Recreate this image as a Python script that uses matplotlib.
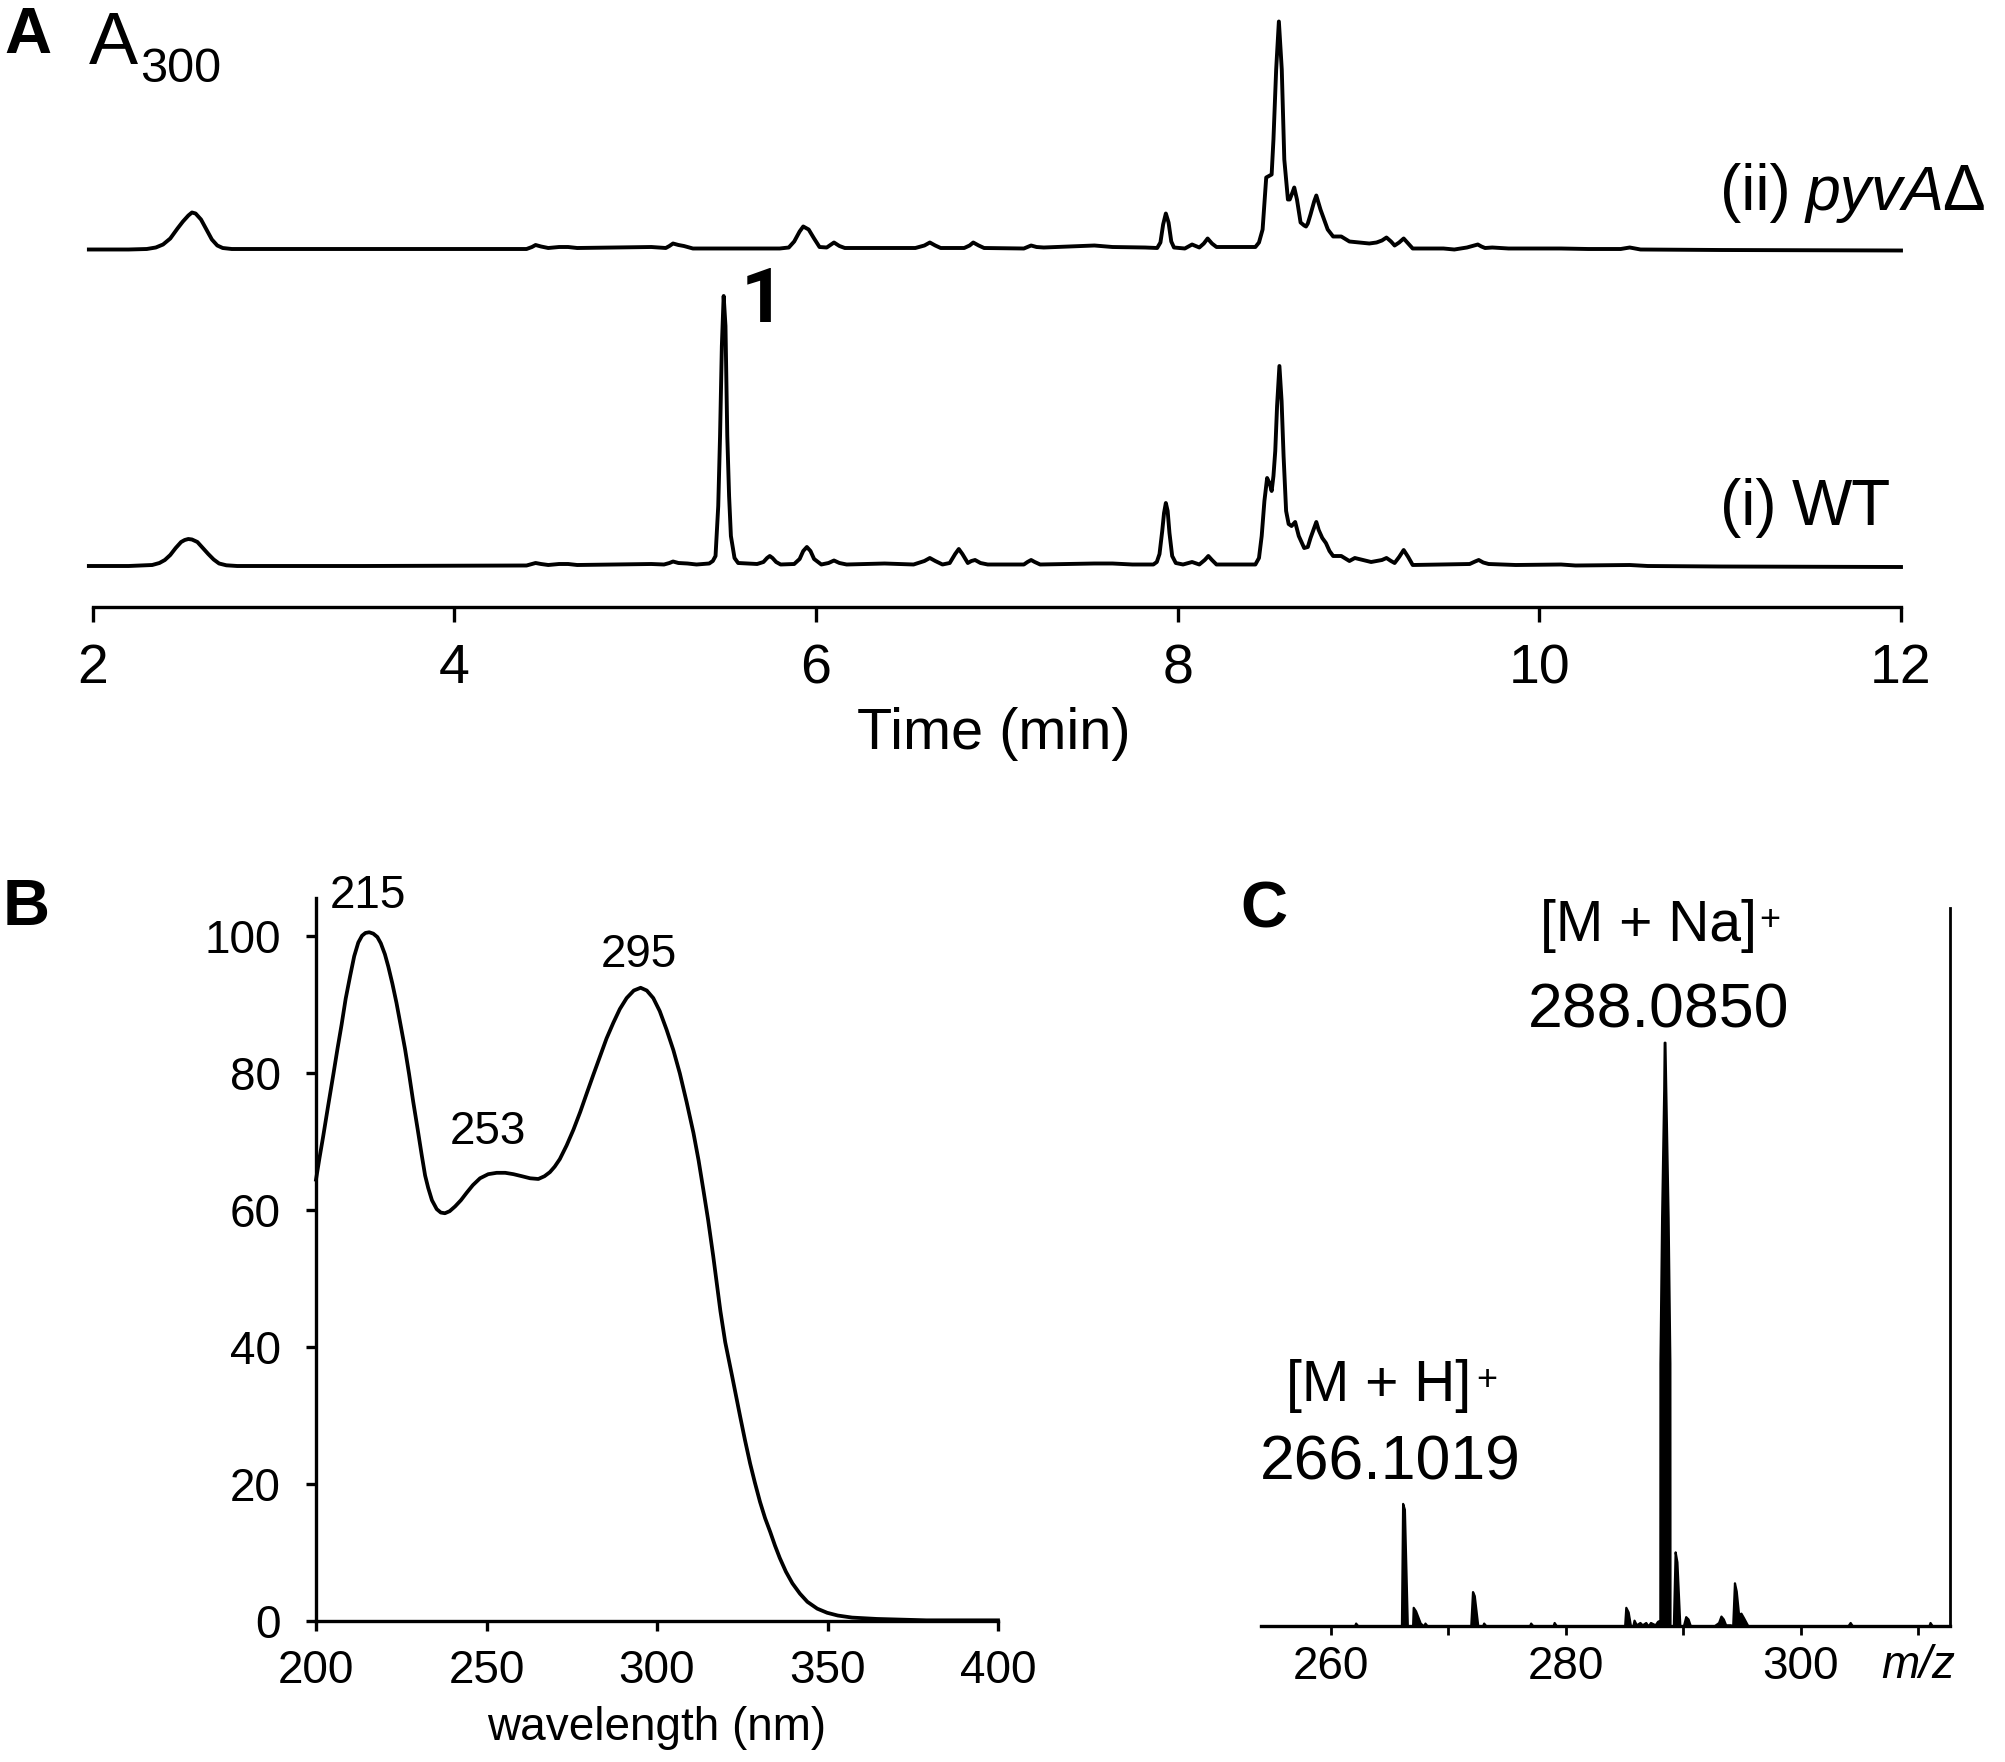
"""
plot.py
Three panel figure: HPLC traces (A), UV spectrum (B), mass spectrum (C).
"""
import matplotlib
matplotlib.use('Agg')
import matplotlib.pyplot as plt

# Panel A: time (min) and height of each trace
wt_time = [1.98, 2.2, 2.33, 2.37, 2.4, 2.43, 2.46, 2.49, 2.51, 2.53, 2.55, 2.58, 2.61, 2.64, 2.67, 2.7, 2.74, 2.8, 3.5, 4.4,
           4.43, 4.45, 4.48, 4.52, 4.58, 4.63, 4.68, 4.9, 5.09, 5.16, 5.19, 5.21, 5.24, 5.29, 5.34, 5.41, 5.43, 5.445, 5.46, 5.47,
           5.48, 5.49, 5.5, 5.51, 5.52, 5.53, 5.55, 5.57, 5.675, 5.71, 5.73, 5.745, 5.76, 5.78, 5.805, 5.88, 5.91, 5.93, 5.95,
           5.97, 5.99, 6.03, 6.07, 6.1, 6.13, 6.17, 6.38, 6.54, 6.6, 6.63, 6.66, 6.7, 6.74, 6.77, 6.79, 6.81, 6.84, 6.86, 6.88,
           6.91, 6.95, 7.15, 7.17, 7.19, 7.21, 7.24, 7.54, 7.64, 7.75, 7.866, 7.885, 7.9, 7.915, 7.925, 7.935, 7.945, 7.955, 7.97,
           7.99, 8.03, 8.08, 8.12, 8.15, 8.17, 8.19, 8.215, 8.43, 8.45, 8.465, 8.48, 8.495, 8.51, 8.52, 8.53, 8.54, 8.55, 8.563,
           8.575, 8.586, 8.6, 8.614, 8.63, 8.65, 8.67, 8.7, 8.72, 8.735, 8.755, 8.767, 8.78, 8.8, 8.82, 8.84, 8.86, 8.905, 8.95,
           8.98, 9.07, 9.13, 9.155, 9.18, 9.2, 9.225, 9.25, 9.275, 9.3, 9.615, 9.645, 9.665, 9.69, 9.72, 9.87, 10.12, 10.2, 10.5,
           10.6, 11.0, 12.0]
wt_signal = [0, 0, 1, 3, 6, 11, 18, 24, 26, 27, 26.5, 24, 18, 12, 6.5, 2.5, 0.7, 0, 0, 0.5,
             2, 3, 2, 1, 2, 2, 1, 1.5, 2, 1.5, 3, 4.5, 3, 2.5, 1.5, 2.5, 5, 10, 60, 130,
             220, 270, 240, 130, 70, 30, 8, 3, 2, 4, 8, 10, 8, 4, 1.5, 2, 7, 15, 19,
             15, 7, 1.5, 3, 5.5, 3, 1.5, 2.5, 1.5, 5, 8, 5, 1.5, 3, 12, 17, 12, 3, 5, 6,
             3, 1.5, 1.5, 4, 6, 4, 1.5, 2.5, 2.5, 1.5, 1.5, 4, 12, 35, 53, 63, 55, 33, 10,
             3, 1.5, 4, 1.5, 6, 10, 6, 1.5, 1.5, 8, 30, 65, 88, 82, 75, 90, 115, 160, 200,
             165, 110, 55, 42, 40, 44, 30, 18, 19, 28, 38, 44, 36, 28, 23, 15, 10, 10, 5,
             8, 4, 6, 8, 5, 3, 9, 16, 9, 1, 2, 4.5, 6, 3.5, 2, 1, 1.5, 0.5, 1,
             0, -0.5, -1]

pyva_time = [1.98, 2.2, 2.3, 2.35, 2.39, 2.43, 2.47, 2.5, 2.53, 2.55, 2.57, 2.6, 2.63, 2.66, 2.69, 2.72, 2.77, 3.5, 4.4,
             4.43, 4.45, 4.48, 4.52, 4.58, 4.63, 4.68, 4.9, 5.09, 5.17, 5.19, 5.21, 5.24, 5.27, 5.32, 5.8, 5.85, 5.88, 5.91, 5.93,
             5.96, 5.99, 6.02, 6.06, 6.08, 6.1, 6.13, 6.16, 6.55, 6.6, 6.63, 6.66, 6.69, 6.82, 6.85, 6.87, 6.9, 6.93, 7.15, 7.17,
             7.19, 7.22, 7.26, 7.54, 7.64, 7.82, 7.887, 7.905, 7.92, 7.935, 7.95, 7.965, 7.98, 8.04, 8.08, 8.12, 8.145, 8.166,
             8.19, 8.215, 8.43, 8.45, 8.47, 8.49, 8.52, 8.53, 8.545, 8.56, 8.576, 8.59, 8.61, 8.62, 8.635, 8.645, 8.66, 8.68,
             8.7, 8.71, 8.72, 8.735, 8.755, 8.767, 8.78, 8.79, 8.81, 8.83, 8.86, 8.905, 8.95, 9.06, 9.1, 9.13, 9.155, 9.18,
             9.2, 9.225, 9.25, 9.275, 9.3, 9.47, 9.53, 9.6, 9.64, 9.66, 9.68, 9.7, 9.74, 9.83, 10.12, 10.27, 10.45, 10.5, 10.56,
             11.0, 12.0]
pyva_signal = [0, 0, 0.5, 2, 5, 11, 21, 28, 34, 37, 36, 30, 20, 10, 4, 1.5, 0.5, 0.5, 0.5,
               2.5, 4.5, 3, 1.5, 2.5, 2.5, 1.5, 2, 2.5, 1.5, 3.5, 6, 4.5, 3.5, 1, 1, 2, 8, 18, 23,
               20, 11, 2.5, 2, 4.5, 7, 3.5, 1.5, 1.5, 4, 7, 4, 1.5, 1.5, 4, 7, 4, 1.5, 1, 2.5,
               4, 2.5, 2, 4, 2.5, 2, 1.5, 7, 25, 36, 27, 8, 2, 1, 5, 2, 6, 11,
               6, 2.5, 2.5, 7, 20, 72, 75, 110, 180, 228, 180, 90, 50, 50, 57, 62, 50, 27,
               24, 23, 26, 35, 48, 54, 46, 40, 30, 20, 13, 13, 8, 6, 7, 9, 12, 8,
               4, 7, 11, 6, 1, 1, 0, 2, 4, 5, 3, 1.5, 2, 1, 1, 0.5, 0.5, 2, 0,
               -0.5, -1]

time_ticks = [2, 4, 6, 8, 10, 12]

# Panel B: UV absorbance
wavelength = [200, 201, 202.1, 203.5, 205.1, 206.3, 207.5, 208.7, 210, 211.2, 212.4, 213.5, 214.5, 215.6, 216.8, 218, 219,
              220.2, 221.2, 222.4, 223.6, 224.8, 226.1, 227.3, 228.5, 229.8, 231, 232, 232.9, 234, 235.4, 236.6, 237.8,
              239.2, 240.8, 242.5, 244.2, 246, 248.1, 250.5, 253, 255.5, 257.9, 260.4, 262.8, 265.2, 267, 268.6, 270,
              271.5, 273.5, 275.5, 277.5, 279.4, 281.4, 283.3, 285.2, 287.2, 289.1, 291.1, 293.2, 295.2, 297, 298.9,
              300.8, 302.8, 304.8, 306.7, 308.7, 310.7, 312.2, 313.6, 315, 316.5, 318.6, 320, 322, 324.4, 325.8, 327.3,
              328.7, 330.2, 331.7, 333.2, 334.6, 336, 337.8, 339.7, 341.9, 344.1, 347, 349.9, 353, 357.2, 364.5, 379, 400]
absorbance = [64.4, 67.5, 70.7, 75, 79.8, 83.5, 87, 90.8, 94.1, 97, 99, 100, 100.4, 100.5, 100.3, 99.8, 98.9,
              97.3, 95.5, 93, 90.2, 87, 83.5, 79.8, 75.8, 71.8, 68, 65, 63.2, 61.4, 60.1, 59.6, 59.5,
              59.8, 60.5, 61.4, 62.5, 63.6, 64.6, 65.2, 65.4, 65.4, 65.2, 64.9, 64.6, 64.5, 64.9, 65.5, 66.3,
              67.4, 69.4, 71.7, 74.3, 77, 79.8, 82.4, 85, 87.3, 89.3, 90.9, 92, 92.4, 92, 90.9,
              89, 86.3, 83.3, 79.9, 75.7, 71.2, 67.2, 62.9, 58.5, 53.2, 45.2, 40.7, 35.8, 29.8, 26.4, 23,
              20.2, 17.4, 15, 13, 11, 9.2, 7.2, 5.5, 4, 2.8, 1.8, 1.2, 0.8, 0.5, 0.3, 0.1, 0.1]
wave_ticks = [200, 250, 300, 350, 400]
abs_ticks = [0, 20, 40, 60, 80, 100]

# Panel C: mass spectrum profile
mz = [254, 262.0, 262.1, 262.3, 266.0, 266.1, 266.25, 266.5, 266.95, 267.0, 267.2, 267.6, 267.9, 268.0, 268.2, 271.9,
      272.05, 272.2, 272.5, 272.9, 273.0, 273.2, 276.9, 277.0, 277.2, 278.9, 279.0, 279.2, 285.0, 285.1, 285.3, 285.5,
      285.7, 285.8, 286.0, 286.3, 286.5, 286.8, 287.0, 287.2, 287.6, 287.8, 288.0, 288.01, 288.15, 288.33, 288.37, 288.43,
      288.5, 288.7, 288.85, 288.86, 289.15, 289.3, 289.45, 289.7, 290.0, 290.2, 290.4, 290.6, 292.6, 293.0, 293.2, 293.4, 293.6,
      293.8, 294.0, 294.2, 294.35, 294.5, 294.7, 294.9, 295.1, 295.5, 304.0, 304.2, 304.4, 310.9, 311.0, 311.2, 312.7]
intensity = [0, 0, 0.5, 0, 0, 21, 20, 0, 0, 3.2, 2.6, 0.5, 0, 0.5, 0, 0,
             5.9, 5.2, 0, 0, 0.5, 0, 0, 0.5, 0, 0, 0.6, 0, 0, 3.2, 2.4, 0,
             0, 1, 0.2, 0.6, 0.2, 0.6, 0, 0.6, 0.2, 0.8, 1, 45, 70, 92, 100, 100,
             92, 70, 45, 0, 0, 12.7, 11, 0, 0, 1.6, 1.2, 0, 0, 0.6, 1.7, 1.2, 0.2,
             0.2, 0.2, 0, 7.4, 6, 2, 2.2, 1.5, 0, 0, 0.6, 0, 0, 0.6, 0, 0]
mz_major = [260, 280, 300]
mz_minor = [270, 290, 310]

W, H = 2005, 1762
plt.rcParams['font.family'] = ['Liberation Sans', 'DejaVu Sans']

fig = plt.figure(figsize=(W / 100, H / 100), dpi=100, facecolor='white')


def px_axes(left, top, right, bottom):
    # axes from pixel edges, y measured from the top of the image
    return fig.add_axes([left / W, 1 - bottom / H, (right - left) / W, (bottom - top) / H])


def px_text(x, y, s, **kw):
    # y is the text baseline in image pixels
    kw.setdefault('va', 'baseline')
    return fig.text(x / W, 1 - y / H, s, color='black', **kw)


# Pane A: the two chromatograms
ax_a = px_axes(92.5, 0, 1901, 607)
ax_a.plot(wt_time, [v + 41 for v in wt_signal], color='black', lw=2.8, clip_on=False, solid_joinstyle='round')
ax_a.plot(pyva_time, [v + 357.5 for v in pyva_signal], color='black', lw=2.8, clip_on=False, solid_joinstyle='round')
ax_a.set_xlim(2, 12)
ax_a.set_ylim(0, 607)
ax_a.set_yticks([])
ax_a.set_xticks(time_ticks)
ax_a.tick_params(axis='x', length=11, width=2.4, pad=15, labelsize=40)
ax_a.set_xlabel('Time (min)', fontsize=41.5, va='baseline')
ax_a.xaxis.set_label_coords(0.4985, -142 / 607)
for side in ['top', 'left', 'right']:
    ax_a.spines[side].set_visible(False)
ax_a.spines['bottom'].set_linewidth(2.4)
ax_a.patch.set_alpha(0)

px_text(4, 53, 'A', fontsize=47, fontweight='bold')
px_text(89, 64, 'A', fontsize=53)
px_text(140, 82, '300', fontsize=35)
px_text(741, 322, '1', fontsize=55, fontweight='bold', family=['Roboto', 'DejaVu Sans'])
px_text(1720, 210, '(ii)', fontsize=46)
px_text(1806, 210, 'pyvA', fontsize=45, fontstyle='italic')
px_text(1942, 210, 'Δ', fontsize=46)
px_text(1720, 525, '(i)', fontsize=46)
px_text(1792, 525, 'WT', fontsize=46)

# Pane B: UV spectrum
ax_b = px_axes(316, 898, 998, 1621)
ax_b.plot(wavelength, absorbance, color='black', lw=2.7, clip_on=False)
ax_b.set_xlim(200, 400)
ax_b.set_ylim(0, 105.5)
ax_b.set_xticks(wave_ticks)
ax_b.set_yticks(abs_ticks)
ax_b.tick_params(axis='both', length=7.5, width=2.4, labelsize=33)
ax_b.tick_params(axis='x', pad=13)
ax_b.tick_params(axis='y', pad=18)
ax_b.set_xlabel('wavelength (nm)', fontsize=33, va='baseline')
ax_b.xaxis.set_label_coords(0.5, -119 / 723)
for side in ['top', 'right']:
    ax_b.spines[side].set_visible(False)
for side in ['left', 'bottom']:
    ax_b.spines[side].set_linewidth(2.4)

px_text(3, 925, 'B', fontsize=47, fontweight='bold')
px_text(367.7, 908, '215', fontsize=33, ha='center')
px_text(488, 1144, '253', fontsize=33, ha='center')
px_text(639, 967, '295', fontsize=33, ha='center')

# Pane C: mass spectrum
ax_c = px_axes(1260.5, 908, 1950, 1626)
ax_c.fill_between(mz, intensity, 0, color='black', lw=1.6, clip_on=False)
ax_c.set_xlim(254, 312.7)
ax_c.set_ylim(0, 123)
ax_c.set_yticks([])
ax_c.set_xticks(mz_major)
ax_c.set_xticks(mz_minor, minor=True)
ax_c.tick_params(axis='x', which='both', length=6.5, width=2, pad=7, labelsize=33)
for side in ['top', 'left']:
    ax_c.spines[side].set_visible(False)
ax_c.spines['bottom'].set_linewidth(2.4)
ax_c.spines['right'].set_linewidth(2)

px_text(1240, 927, 'C', fontsize=47, fontweight='bold')
px_text(1540, 941, '[M + Na]', fontsize=41)
px_text(1759, 930, '+', fontsize=26)
px_text(1528, 1027, '288.0850', fontsize=45)
px_text(1286, 1401, '[M + H]', fontsize=41)
px_text(1476, 1390, '+', fontsize=26)
px_text(1260, 1480, '266.1019', fontsize=45)
px_text(1881, 1678, 'm/z', fontsize=33, fontstyle='italic')

fig.savefig('out.png', dpi=100)
